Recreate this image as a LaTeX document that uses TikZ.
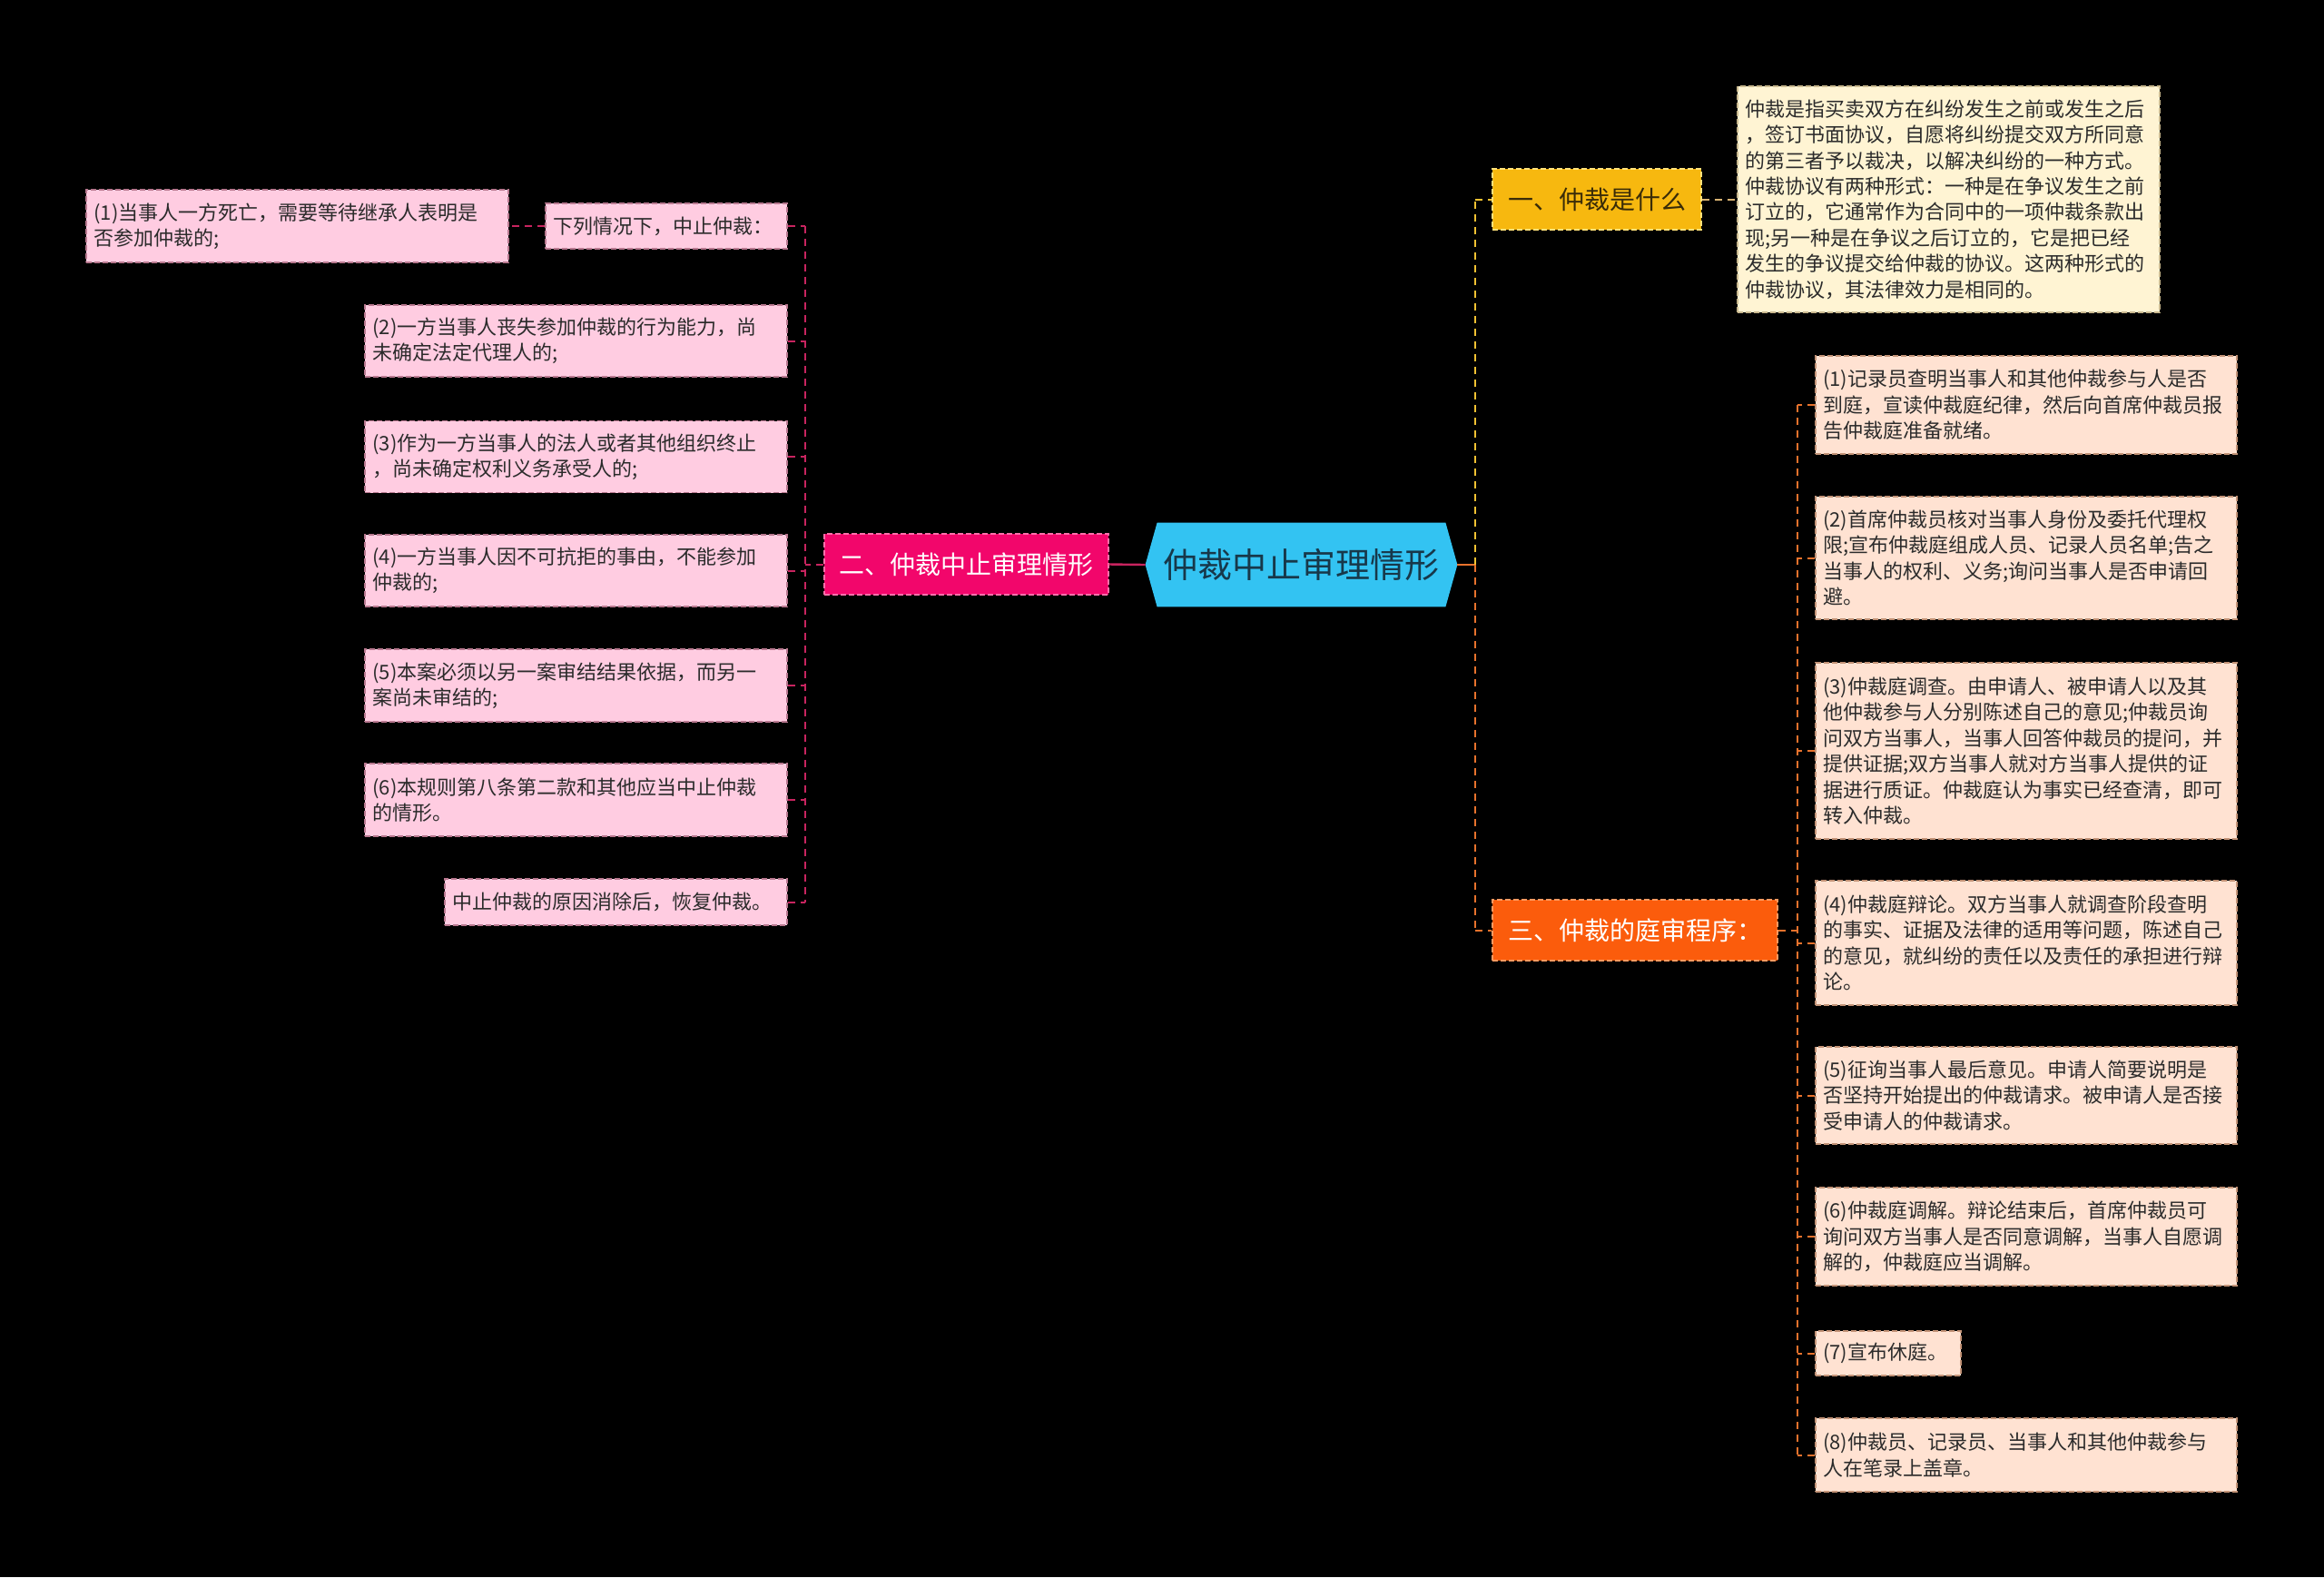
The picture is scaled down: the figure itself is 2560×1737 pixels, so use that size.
\documentclass[tikz,border=0pt]{standalone}
\usepackage{fontspec}
\setmainfont{Noto Sans CJK SC}
\usetikzlibrary{backgrounds}
\definecolor{rootfill}{HTML}{33C3F2}
\definecolor{roottext}{HTML}{17384A}
\definecolor{lbfill}{HTML}{F2066B}
\definecolor{lbborder}{HTML}{FF6FAA}
\definecolor{lleaf}{HTML}{FFCCE1}
\definecolor{lleafborder}{HTML}{B8788F}
\definecolor{lconn}{HTML}{C8245F}
\definecolor{r1fill}{HTML}{F7B80F}
\definecolor{r1border}{HTML}{FFE27A}
\definecolor{r1text}{HTML}{3A2C08}
\definecolor{descfill}{HTML}{FFF4D3}
\definecolor{descborder}{HTML}{C9B98F}
\definecolor{yconn}{HTML}{F2C232}
\definecolor{tconn}{HTML}{D9B373}
\definecolor{r3fill}{HTML}{FB5C0C}
\definecolor{r3border}{HTML}{FF9A60}
\definecolor{rleaf}{HTML}{FFE2D2}
\definecolor{rleafborder}{HTML}{C39377}
\definecolor{oconn}{HTML}{E8722C}
\definecolor{leaftext}{HTML}{2B2B2B}
\tikzset{
  leafbox/.style={rectangle, dashed, dash pattern=on 3pt off 1.5pt, line width=0.7pt,
    font=\fontsize{11}{14.2}\selectfont, align=left, text width=224pt,
    inner xsep=4pt, inner ysep=0pt, text=leaftext, anchor=center},
  lleafbox/.style={leafbox, fill=lleaf, draw=lleafborder, minimum width=232.5pt},
  rleafbox/.style={leafbox, fill=rleaf, draw=rleafborder, minimum width=232pt},
  branchbox/.style={rectangle, dashed, dash pattern=on 3pt off 1.5pt, line width=0.7pt,
    font=\fontsize{14}{16}\selectfont, inner sep=0pt, align=center},
  conn/.style={dashed, dash pattern=on 4pt off 3pt, line width=1pt},
}
\begin{document}
\begin{tikzpicture}[x=0.5pt,y=-0.5pt]
\useasboundingbox (0,0) rectangle (2560,1737);

% root
\node[inner sep=0pt, minimum width=171.5pt, minimum height=46pt,
  font=\fontsize{19}{22}\selectfont, text=roottext] (root) at (1433.5,622) {仲裁中止审理情形};
\begin{scope}[on background layer]
\fill[black] (0,0) rectangle (2560,1737);
\fill[rootfill] (root.west) -- ([xshift=6.5pt]root.north west) -- ([xshift=-6.5pt]root.north east)
  -- (root.east) -- ([xshift=-6.5pt]root.south east) -- ([xshift=6.5pt]root.south west) -- cycle;
\end{scope}

% left branch
\node[branchbox, fill=lbfill, draw=lbborder, text=white, minimum width=156.5pt, minimum height=33.5pt]
  (L) at (1064.5,621.5) {二、仲裁中止审理情形};

\node[lleafbox, minimum width=133pt, text width=125pt, minimum height=25pt] (L0) at (734,249) {下列情况下，中止仲裁：};
\node[lleafbox, minimum height=40pt] (L0a) at (327.5,249) {(1)当事人一方死亡，需要等待继承人表明是\\否参加仲裁的;};
\node[lleafbox, minimum height=39.5pt] (L2) at (634.5,375.5) {(2)一方当事人丧失参加仲裁的行为能力，尚\\未确定法定代理人的;};
\node[lleafbox, minimum height=39.5pt] (L3) at (634.5,503) {(3)作为一方当事人的法人或者其他组织终止\\，尚未确定权利义务承受人的;};
\node[lleafbox, minimum height=39.5pt] (L4) at (634.5,628.5) {(4)一方当事人因不可抗拒的事由，不能参加\\仲裁的;};
\node[lleafbox, minimum height=40pt] (L5) at (634.5,755) {(5)本案必须以另一案审结结果依据，而另一\\案尚未审结的;};
\node[lleafbox, minimum height=40pt] (L6) at (634.5,881) {(6)本规则第八条第二款和其他应当中止仲裁\\的情形。};
\node[lleafbox, minimum width=188.5pt, text width=180pt, minimum height=25.5pt] (L7) at (678.5,993.5) {中止仲裁的原因消除后，恢复仲裁。};

\coordinate (lvtop) at (887,249);
\coordinate (lvbot) at (887,993.5);
\draw[lconn, line width=1.2pt] (root.west) -- (L.east);
\draw[lconn, conn] (L.west) -- (L.west -| lvtop);
\draw[lconn, conn] (lvtop) -- (lvbot);
\foreach \n in {L0,L2,L3,L4,L5,L6,L7} {
  \draw[lconn, conn] (\n.east) -- (\n.east -| lvtop);
}
\draw[lconn, conn] (L0.west) -- (L0a.east);

% right upper branch
\node[branchbox, fill=r1fill, draw=r1border, text=r1text, minimum width=115pt, minimum height=33.5pt]
  (R1) at (1759,219.5) {一、仲裁是什么};
\node[leafbox, fill=descfill, draw=descborder, minimum width=232.5pt, minimum height=124.5pt] (R1a) at (2146.5,219.5)
  {仲裁是指买卖双方在纠纷发生之前或发生之后\\，签订书面协议，自愿将纠纷提交双方所同意\\的第三者予以裁决，以解决纠纷的一种方式。\\仲裁协议有两种形式：一种是在争议发生之前\\订立的，它通常作为合同中的一项仲裁条款出\\现;另一种是在争议之后订立的，它是把已经\\发生的争议提交给仲裁的协议。这两种形式的\\仲裁协议，其法律效力是相同的。};

% right lower branch
\node[branchbox, fill=r3fill, draw=r3border, text=white, minimum width=157pt, minimum height=33.5pt]
  (R3) at (1801,1024.5) {三、仲裁的庭审程序：};

\node[rleafbox, minimum height=54pt] (C1) at (2232,446) {(1)记录员查明当事人和其他仲裁参与人是否\\到庭，宣读仲裁庭纪律，然后向首席仲裁员报\\告仲裁庭准备就绪。};
\node[rleafbox, minimum height=67.5pt] (C2) at (2232,614.5) {(2)首席仲裁员核对当事人身份及委托代理权\\限;宣布仲裁庭组成人员、记录人员名单;告之\\当事人的权利、义务;询问当事人是否申请回\\避。};
\node[rleafbox, minimum height=97pt] (C3) at (2232,827) {(3)仲裁庭调查。由申请人、被申请人以及其\\他仲裁参与人分别陈述自己的意见;仲裁员询\\问双方当事人，当事人回答仲裁员的提问，并\\提供证据;双方当事人就对方当事人提供的证\\据进行质证。仲裁庭认为事实已经查清，即可\\转入仲裁。};
\node[rleafbox, minimum height=68.5pt] (C4) at (2232,1038.5) {(4)仲裁庭辩论。双方当事人就调查阶段查明\\的事实、证据及法律的适用等问题，陈述自己\\的意见，就纠纷的责任以及责任的承担进行辩\\论。};
\node[rleafbox, minimum height=53.5pt] (C5) at (2232,1206.5) {(5)征询当事人最后意见。申请人简要说明是\\否坚持开始提出的仲裁请求。被申请人是否接\\受申请人的仲裁请求。};
\node[rleafbox, minimum height=54pt] (C6) at (2232,1362) {(6)仲裁庭调解。辩论结束后，首席仲裁员可\\询问双方当事人是否同意调解，当事人自愿调\\解的，仲裁庭应当调解。};
\node[rleafbox, minimum width=80pt, text width=72pt, minimum height=24.5pt] (C7) at (2080,1490.5) {(7)宣布休庭。};
\node[rleafbox, minimum height=40.5pt] (C8) at (2232,1602.5) {(8)仲裁员、记录员、当事人和其他仲裁参与\\人在笔录上盖章。};

% right connectors
\coordinate (rvmid) at (1625,622);
\draw[oconn, line width=1.2pt] (root.east) -- (rvmid);
\draw[yconn, conn] (rvmid) -- (rvmid |- R1.west);
\draw[yconn, conn] (rvmid |- R1.west) -- (R1.west);
\draw[oconn, conn] (rvmid) -- (rvmid |- R3.west);
\draw[oconn, conn] (rvmid |- R3.west) -- (R3.west);
\draw[tconn, conn] (R1.east) -- (R1a.west);

\coordinate (cvtop) at (1980,446);
\coordinate (cvbot) at (1980,1602.5);
\draw[oconn, conn] (R3.east) -- (R3.east -| cvtop);
\draw[oconn, conn] (cvtop) -- (cvbot);
\foreach \n in {C1,C2,C3,C4,C5,C6,C7,C8} {
  \draw[oconn, conn] (\n.west) -- (\n.west -| cvtop);
}
\end{tikzpicture}
\end{document}
